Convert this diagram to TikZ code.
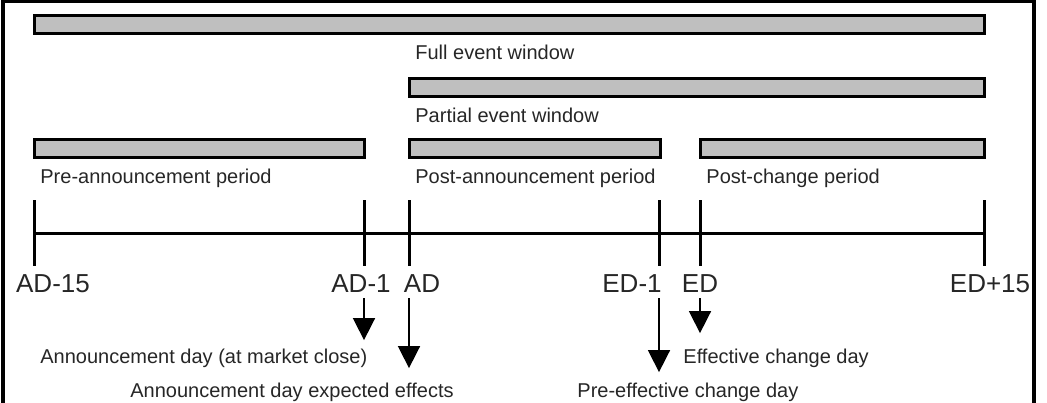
\documentclass[tikz,border=0pt]{standalone}
\usepackage{fontspec}
\setmainfont{Liberation Sans}
\usetikzlibrary{arrows.meta,positioning,calc}
\tikzset{
  bar/.style={draw, line width=1.5pt, fill=black!25},
  per/.style={anchor=base west, inner sep=0pt, text=black!85, font=\fontsize{10}{12}\selectfont},
  day/.style={anchor=base, inner sep=3pt, text=black!85, font=\fontsize{13}{15}\selectfont},
  note/.style={anchor=base west, inner sep=0pt, text=black!85, font=\fontsize{10}{12}\selectfont},
  tick/.style={line width=1.5pt},
  arr/.style={-{Triangle[length=11pt,width=11pt]}, line width=0.8pt},
}

\begin{document}
\begin{tikzpicture}[x=0.5pt, y=-0.5pt]
\useasboundingbox (0,0) rectangle (1047,402);
\draw[line width=2pt] (3,1) rectangle (1034,440);
% windows and periods
\foreach \a/\b/\y in {34/984/15, 409/984/78, 34/364/139, 409/660/139, 700/984/139}
  \draw[bar] (\a,\y) rectangle (\b,\y+18);
\node[per] (full) at (415,59) {Full event window};
\node[per] (part) at (415,122) {Partial event window};
\node[per] (pre) at (40,183) {Pre-announcement period};
\node[per] (postann) at (415,183) {Post-announcement period};
\node[per] (postchg) at (706,183) {Post-change period};
% time line
\coordinate (t1) at (34,233);
\coordinate (t2) at (364,233);
\coordinate (t3) at (409,233);
\coordinate (t4) at (659,233);
\coordinate (t5) at (700,233);
\coordinate (t6) at (984,233);
\draw[tick] (t1) -- (t6);
\foreach \t in {t1,t2,t3,t4,t5,t6} \draw[tick] (\t) ++(0,-33) -- ++(0,66);
\node[day] (ad15) at (53,292) {AD-15};
\node[day] (ad1) at (361,292) {AD-1};
\node[day] (ad) at (422,292) {AD};
\node[day] (ed1) at (632,292) {ED-1};
\node[day] (ed) at (700,292) {ED};
\node[day] (ed15) at (990,292) {ED+15};
% event days
\node[note] (close) at (40,363) {Announcement day (at market close)};
\node[note] (expect) at (130,397) {Announcement day expected effects};
\node[note] (effday) at (683,363) {Effective change day};
\node[note] (preeff) at (577,397) {Pre-effective change day};
\foreach \t/\a/\b/\s in {t2/ad1/close/4pt, t3/ad/expect/7pt, t4/ed1/preeff/5pt, t5/ed/effday/7.5pt}
  \draw[arr, shorten >=\s] (\t |- \a.south) -- (\t |- \b.north);
\end{tikzpicture}
\end{document}
